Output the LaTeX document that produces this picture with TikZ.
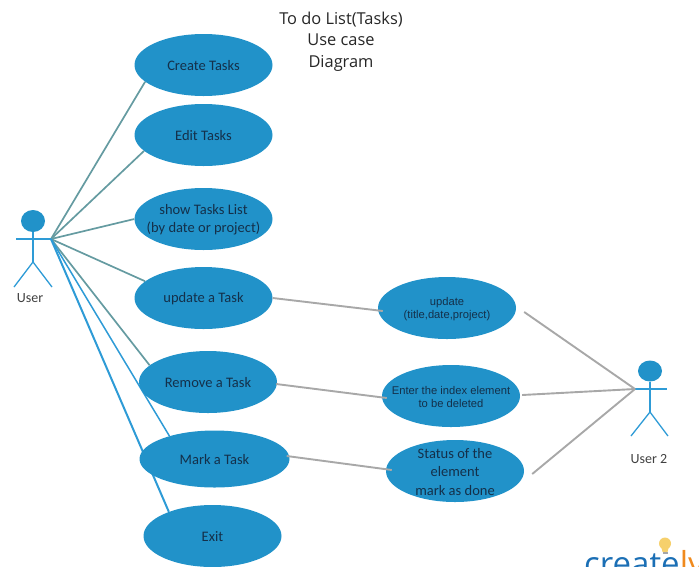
\documentclass[tikz,border=0pt]{standalone}
\usepackage{fontspec}
\setmainfont{Carlito}
\newfontfamily\arialfont{Liberation Sans}
\newfontfamily\titlefont{Open Sans}
\usetikzlibrary{shapes.geometric, backgrounds}

\definecolor{usecaseblue}{HTML}{2192C9}
\definecolor{tealline}{HTML}{659BA1}
\definecolor{blueline}{HTML}{2E9BD6}
\definecolor{greyline}{HTML}{A8A8A8}
\definecolor{inktext}{HTML}{14304A}
\definecolor{logoblue}{HTML}{1B6FB5}
\definecolor{logoorange}{HTML}{F08A1D}
\definecolor{bulbyellow}{HTML}{F6D06C}

\begin{document}
\begin{tikzpicture}[
  x=1pt, y=-1pt,
  usecase/.style = {ellipse, fill=usecaseblue, minimum width=138pt, minimum height=62pt, inner sep=0pt},
  case_text/.style = {inner sep=0pt, yshift=-1pt, align=center, text=inktext, font=\fontsize{14.5}{18.3}\selectfont},
  case_small/.style = {case_text, font=\arialfont\fontsize{11.2}{13}\selectfont},
  head/.style = {ellipse, fill=usecaseblue, minimum width=24pt, minimum height=22pt, inner sep=0pt},
  actor_line/.style = {draw=blueline, line width=1.3pt},
  teal_link/.style = {draw=tealline, line width=1.7pt},
  blue_link/.style = {draw=blueline, line width=1.5pt},
  grey_link/.style = {draw=greyline, line width=1.9pt},
  actor_text/.style = {inner sep=0pt, text=black!75, font=\fontsize{14}{16}\selectfont}
]
\useasboundingbox (0,0) rectangle (699,566);

%--------------------------------------------------
% Title
%--------------------------------------------------
\node[align=center, inner sep=0pt, text=black!85, font=\titlefont\fontsize{16.4}{21.5}\selectfont] (title) at (341,41.5)
  {To do List(Tasks)\\Use case\\Diagram};

%--------------------------------------------------
% Use cases
%--------------------------------------------------
\node[usecase, label={[case_text]center:Create Tasks}] (create) at (203.5,65) {};
\node[usecase, label={[case_text]center:Edit Tasks}] (edit) at (203.5,135) {};
\node[usecase, label={[case_text]center:{show Tasks List\\(by date or project)}}] (show) at (203.5,219) {};
\node[usecase, label={[case_text]center:update a Task}] (update) at (203.5,298) {};
\node[usecase, label={[case_text]center:Remove a Task}] (remove) at (208,382) {};
\node[usecase, minimum width=150pt, minimum height=57pt, label={[case_text]center:Mark a Task}] (mark) at (214.5,459) {};
\node[usecase, label={[case_text]center:Exit}] (exit) at (212.5,536) {};

\node[usecase, label={[case_small]center:{update\\(title,date,project)}}] (update_fields) at (447,308) {};
\node[usecase, label={[case_small]center:{Enter the index element\\to be deleted}}] (enter_index) at (451,396) {};
\node[usecase, label={[case_text]center:{Status of the\\element\\mark as done}}] (status) at (455,471) {};

%--------------------------------------------------
% Actors
%--------------------------------------------------
\node[head] (user_head) at (33,221) {};
\coordinate (user_hand) at (51,239);
\coordinate (user_arm) at (16,239);
\coordinate (user_hip) at (33,262);
\coordinate (user_foot_l) at (14,287);
\coordinate (user_foot_r) at (52,287);
\node[actor_text] (user_label) at (30,298) {User};

\node[head, minimum height=21pt] (user2_head) at (650,371) {};
\coordinate (user2_hand) at (635,389);
\coordinate (user2_arm) at (667,389);
\coordinate (user2_hip) at (650,412);
\coordinate (user2_foot_l) at (631,436);
\coordinate (user2_foot_r) at (668,436);
\node[actor_text] (user2_label) at (649,459) {User 2};

\draw[actor_line] (user_head.south) -- (user_hip);
\draw[actor_line] (user_arm) -- (user_hand);
\draw[actor_line] (user_foot_l) -- (user_hip) -- (user_foot_r);

\draw[actor_line] (user2_head.south) -- (user2_hip);
\draw[actor_line] (user2_hand) -- (user2_arm);
\draw[actor_line] (user2_foot_l) -- (user2_hip) -- (user2_foot_r);

%--------------------------------------------------
% Connections
%--------------------------------------------------
\begin{scope}[on background layer]
  \draw[teal_link] (user_hand) -- (create.196);
  \draw[teal_link] (user_hand) -- (edit.195);
  \draw[teal_link] (user_hand) -- (show.180);
  \draw[teal_link] (user_hand) -- (update.164);
  \draw[teal_link] (user_hand) -- (remove.164);
  \draw[blue_link] (user_hand) -- (mark.153);
  \draw[blue_link, line width=2pt] (user_hand) -- (exit.151);
\end{scope}

% use case details
\draw[grey_link] (update.east) -- ([xshift=5pt,yshift=-3pt]update_fields.west);
\draw[grey_link] ([xshift=-1pt,yshift=-2pt]remove.east) -- ([xshift=5pt,yshift=-2pt]enter_index.west);
\draw[grey_link] ([xshift=-3pt,yshift=3pt]mark.east) -- ([xshift=6pt,yshift=1pt]status.west);

% User 2
\draw[grey_link] (user2_hand) -- ([xshift=8pt,yshift=-4pt]update_fields.east);
\draw[grey_link] (user2_hand) -- ([xshift=2pt,yshift=1pt]enter_index.east);
\draw[grey_link] (user2_hand) -- ([xshift=8pt,yshift=-3pt]status.east);

%--------------------------------------------------
% Logo
%--------------------------------------------------
\node[anchor=base west, inner sep=0pt, font=\titlefont\fontsize{33}{34}\selectfont] (logo) at (584,575)
  {\textcolor{logoblue}{create}\textcolor{logoorange}{ly}};
\fill[bulbyellow] (665,543.5) circle (6);
\fill[bulbyellow] (661,546) -- (669,546) -- (667.5,552) -- (662.5,552) -- cycle;
\fill[black!35] (662.5,552) rectangle (667.5,554);

\end{tikzpicture}
\end{document}
